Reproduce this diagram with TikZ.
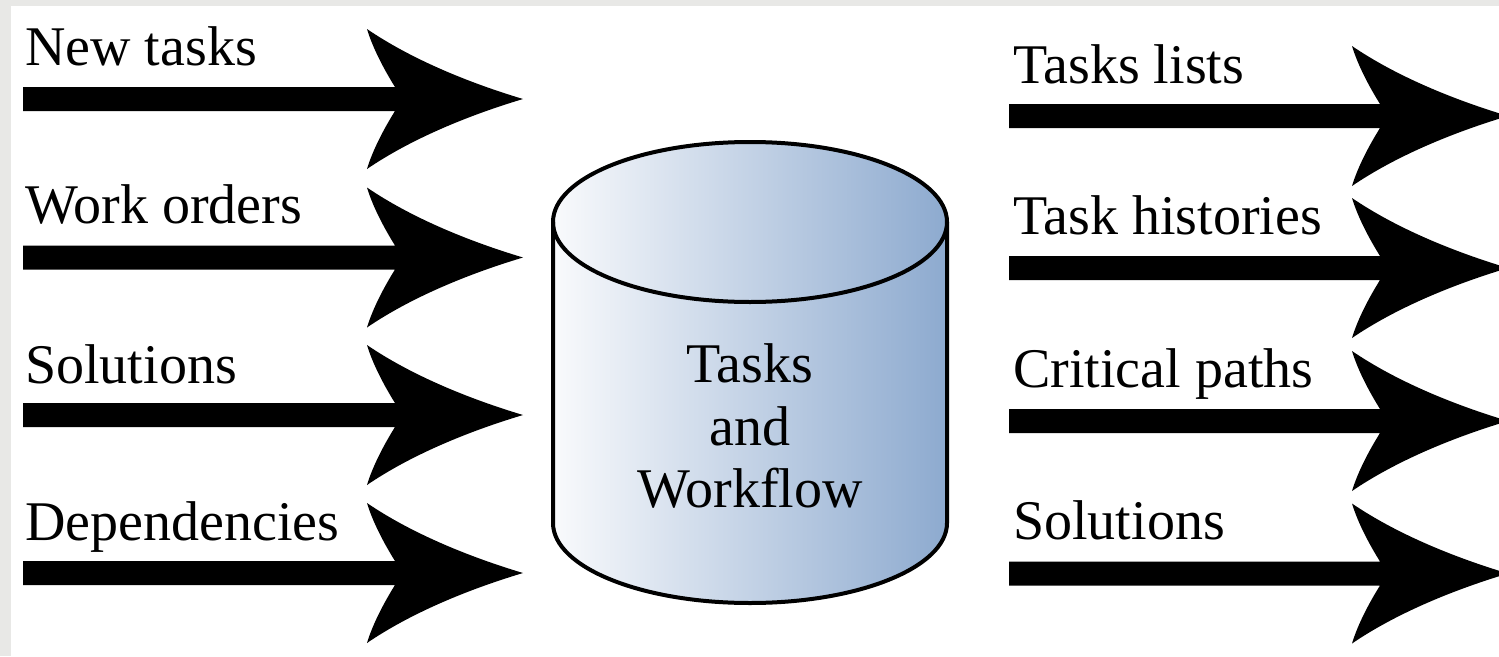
\documentclass[tikz,border=0pt]{standalone}
\usepackage{fontspec}
\setmainfont{Liberation Serif}
\usetikzlibrary{calc}
\definecolor{bggray}{HTML}{E8E8E6}
\definecolor{cylL}{HTML}{F9FAFC}
\definecolor{cylR}{HTML}{8DAACF}
\begin{document}
\begin{tikzpicture}[x=1pt,y=-1pt,
  lbl/.style={anchor=base west, inner sep=0pt, font=\fontsize{56}{62}\selectfont},
  dbtxt/.style={anchor=base, inner sep=0pt, font=\fontsize{56}{62}\selectfont},
  cyl/.style={draw=black, line width=4pt, line join=round},
  fatarrow/.style={fill=black, to path={
    ($(\tikztostart)+(0,-12)$) -- ($(\tikztotarget)+(-128,-12)$)
    .. controls ($(\tikztotarget)+(-138,-28)$) and ($(\tikztotarget)+(-150,-50)$) .. ($(\tikztotarget)+(-156,-70)$)
    .. controls ($(\tikztotarget)+(-115,-42)$) and ($(\tikztotarget)+(-60,-18)$) .. (\tikztotarget)
    .. controls ($(\tikztotarget)+(-60,18)$) and ($(\tikztotarget)+(-115,42)$) .. ($(\tikztotarget)+(-156,70)$)
    .. controls ($(\tikztotarget)+(-150,50)$) and ($(\tikztotarget)+(-138,28)$) .. ($(\tikztotarget)+(-128,12)$)
    -- ($(\tikztostart)+(0,12)$) -- cycle}}]
\useasboundingbox (0,0) rectangle (1499,656);
\fill[bggray] (0,0) rectangle (1499,656);
\fill[white] (11,6) rectangle (1499,656);

% cylinder
\shade[left color=cylL, right color=cylR]
  (553,222) -- (553,523) arc[start angle=180, end angle=360, x radius=197pt, y radius=80pt]
  -- (947,222) arc[start angle=0, end angle=180, x radius=197pt, y radius=80pt] -- cycle;
\draw[cyl] (553,222) -- (553,523) arc[start angle=180, end angle=360, x radius=197pt, y radius=80pt] -- (947,222);
\draw[cyl] (750,222) ellipse [x radius=197pt, y radius=80pt];
\node[dbtxt] (db1) at (750,382) {Tasks};
\node[dbtxt] (db2) at (750,445) {and};
\node[dbtxt] (db3) at (750,507) {Workflow};

% input arrows
\coordinate (in1s) at (23,99);    \coordinate (in1e) at (523,99);
\coordinate (in2s) at (23,257.5); \coordinate (in2e) at (523,257.5);
\coordinate (in3s) at (23,415);   \coordinate (in3e) at (523,415);
\coordinate (in4s) at (23,573);   \coordinate (in4e) at (523,573);
\path[fatarrow] (in1s) to (in1e);
\path[fatarrow] (in2s) to (in2e);
\path[fatarrow] (in3s) to (in3e);
\path[fatarrow] (in4s) to (in4e);
\node[lbl] (li1) at (25,65) {New tasks};
\node[lbl] (li2) at (25,223) {Work orders};
\node[lbl] (li3) at (25,383) {Solutions};
\node[lbl] (li4) at (25,540) {Dependencies};

% output arrows
\coordinate (out1s) at (1009,116);   \coordinate (out1e) at (1508,116);
\coordinate (out2s) at (1009,268);   \coordinate (out2e) at (1508,268);
\coordinate (out3s) at (1009,421);   \coordinate (out3e) at (1508,421);
\coordinate (out4s) at (1009,573.5); \coordinate (out4e) at (1508,573.5);
\path[fatarrow] (out1s) to (out1e);
\path[fatarrow] (out2s) to (out2e);
\path[fatarrow] (out3s) to (out3e);
\path[fatarrow] (out4s) to (out4e);
\node[lbl] (lo1) at (1013,83) {Tasks lists};
\node[lbl] (lo2) at (1013,234) {Task histories};
\node[lbl] (lo3) at (1013,387) {Critical paths};
\node[lbl] (lo4) at (1013,539) {Solutions};
\end{tikzpicture}
\end{document}
